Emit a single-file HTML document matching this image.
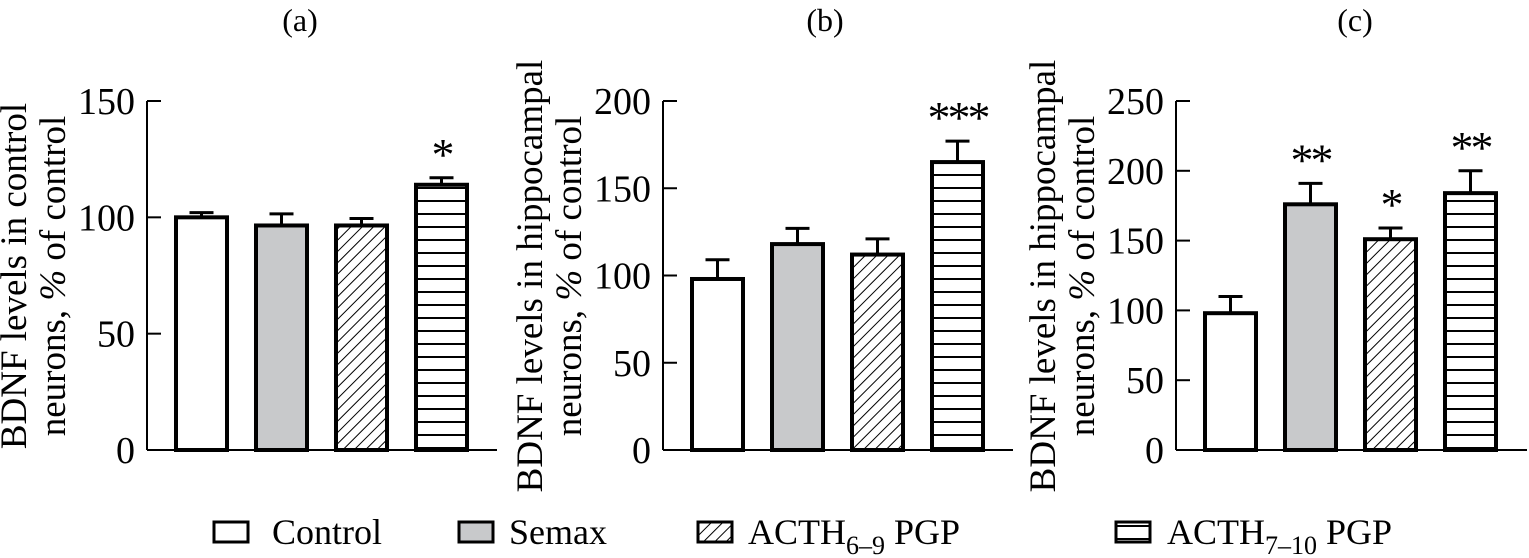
<!DOCTYPE html>
<html><head><meta charset="utf-8"><style>
html,body{margin:0;padding:0;background:#fff;}
svg{display:block;}
svg text{font-family:"Liberation Serif","DejaVu Serif",serif;}
</style></head><body>
<svg id="fig" width="1529" height="558" viewBox="0 0 1529 558">
<defs>
<pattern id="diag" patternUnits="userSpaceOnUse" width="8" height="8" patternTransform="rotate(45)">
<rect width="8" height="8" fill="#fff"/><line x1="0" y1="0" x2="0" y2="8" stroke="#000" stroke-width="2"/>
</pattern>
<pattern id="horiz" patternUnits="userSpaceOnUse" width="8" height="13">
<rect width="8" height="13" fill="#fff"/><line x1="0" y1="6" x2="8" y2="6" stroke="#000" stroke-width="2"/>
</pattern>
</defs>
</svg>
<script>
const categories = ["Control","Semax","ACTH6-9 PGP","ACTH7-10 PGP"];
const valuesA = [100, 96.5, 96.5, 114];
const errorsA = [2, 5, 3, 3];
const starsA = ["", "", "", "*"];
const valuesB = [98, 118, 112, 165];
const errorsB = [11, 9, 9, 12];
const starsB = ["", "", "", "***"];
const valuesC = [98, 176, 151, 184];
const errorsC = [12, 15, 8, 16];
const starsC = ["", "**", "*", "**"];
const ticksA = [0, 50, 100, 150];
const ticksB = [0, 50, 100, 150, 200];
const ticksC = [0, 50, 100, 150, 200, 250];

const svg = document.getElementById('fig');
const NS = 'http://www.w3.org/2000/svg';
const fills = ['#fff', '#c8c9cb', 'url(#diag)', 'url(#horiz)'];
const FONT = '"Liberation Serif", serif';
function el(tag, attrs, parent){ const e=document.createElementNS(NS,tag); for(const k in attrs) e.setAttribute(k,attrs[k]); if(tag==='text') e.setAttribute('font-family', FONT); (parent||svg).appendChild(e); return e; }

function panel(id, title, ax, axEnd, ymax, ticks, vals, errs, stars, firstBar, ylabel1, ylabel2, titleX) {
  const g = el('g', {});
  
  
  const y0 = 450, yTop = 101;
  const y = v => y0 - (v / ymax) * (y0 - yTop);
  const x = i => firstBar + i * 80;
  const bw = 51;
  const t = el('text', {x: titleX, y: 31, 'font-size': 32, 'text-anchor': 'middle'}, g);
  t.textContent = title;
  
  
  const yl = el('line', {x1: ax, y1: yTop, x2: ax, y2: y0, stroke: '#000', 'stroke-width': 2}, g);
  
  
  const xl = el('line', {x1: ax, y1: y0, x2: axEnd, y2: y0, stroke: '#000', 'stroke-width': 2}, g);
  
  
  ticks.forEach(tv => {
    const ty = y(tv);
    const tl = el('line', {x1: ax, y1: ty, x2: ax + 14, y2: ty, stroke: '#000', 'stroke-width': 2}, g);
    
    
    const tt = el('text', {x: ax - 12, y: ty + 13, 'font-size': 38, 'text-anchor': 'end'}, g);
    tt.textContent = tv;
    
    
  });
  const lab = el('text', {transform: `translate(${ax - 121},276) rotate(-90)`, 'font-size': 37, 'text-anchor': 'middle'}, g);
  
  
  const s1 = el('tspan', {x: 0, dy: 0}, lab); s1.textContent = ylabel1;
  const s2 = el('tspan', {x: 0, dy: 39}, lab); s2.innerHTML = ylabel2;
  vals.forEach((v, i) => {
    const cx = x(i) + bw / 2;
    const et = y(v + errs[i]);
    const e1 = el('line', {x1: cx, y1: y(v), x2: cx, y2: et, stroke: '#000', 'stroke-width': 3}, g);
    
    
    const e2 = el('line', {x1: cx - 12, y1: et, x2: cx + 12, y2: et, stroke: '#000', 'stroke-width': 3}, g);
    
    
    const r = el('rect', {x: x(i), y: y(v), width: bw, height: y0 - y(v), fill: fills[i], stroke: '#000', 'stroke-width': 4}, g);
    
    
    if (stars[i]) {
      const st = el('text', {x: cx, y: et - 8, 'font-size': 46, 'text-anchor': 'middle', 'letter-spacing': -3}, g);
      st.textContent = stars[i];
      
      
    }
  });
}
panel('a', '(a)', 147, 497, 150, ticksA, valuesA, errorsA, starsA, 176, 'BDNF levels in control', 'neurons, <tspan font-style="italic">%</tspan> of control', 300);
panel('b', '(b)', 663, 1013, 200, ticksB, valuesB, errorsB, starsB, 692, 'BDNF levels in hippocampal', 'neurons, <tspan font-style="italic">%</tspan> of control', 825);
panel('c', '(c)', 1176, 1527, 250, ticksC, valuesC, errorsC, starsC, 1205, 'BDNF levels in hippocampal', 'neurons, <tspan font-style="italic">%</tspan> of control', 1355);

const legend = el('g', {});


const lx = [214, 459, 698, 1116];
const ltx = [272, 509, 748, 1167];
const ltexts = ['Control', 'Semax', 'ACTH<tspan font-size="26" dy="10">6–9</tspan><tspan dy="-10"> PGP</tspan>', 'ACTH<tspan font-size="26" dy="10">7–10</tspan><tspan dy="-10"> PGP</tspan>'];
lx.forEach((bx, i) => {
  const r = el('rect', {x: bx, y: 522, width: 34, height: 20, fill: fills[i], stroke: '#000', 'stroke-width': 3}, legend);
  
  
  const t = el('text', {x: ltx[i], y: 544, 'font-size': 36}, legend);
  t.innerHTML = ltexts[i];
  
  
});
</script>
</body></html>
